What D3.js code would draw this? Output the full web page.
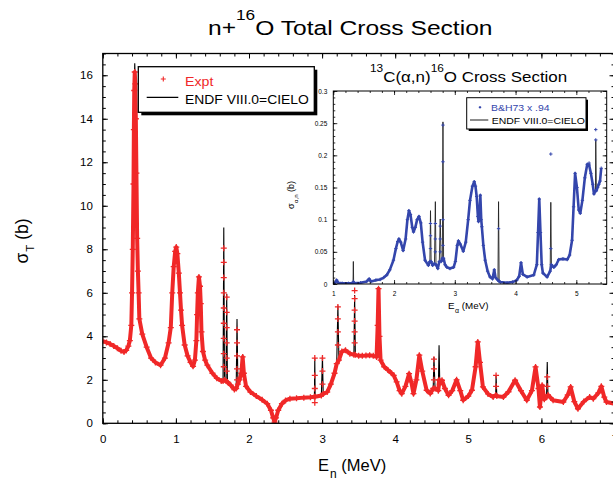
<!DOCTYPE html>
<html>
<head>
<meta charset="utf-8">
<script src="https://cdn.jsdelivr.net/npm/d3@7"></script>
<style>
  body { margin: 0; background: #fff; }
  svg { display: block; font-family: "Liberation Sans", Arial, Helvetica, sans-serif; }
</style>
</head>
<body>
<svg id="chart" width="613" height="479"></svg>
<script>
// ---------------- n + 16O total cross section (E in MeV, sigma in barns) ----------------
const endfPoints = [
  [0.00,3.77],[0.05,3.72],[0.10,3.65],[0.15,3.55],[0.20,3.45],[0.25,3.33],[0.29,3.28],[0.32,3.35],
  [0.35,3.55],[0.37,3.8],[0.39,4.5],[0.40,6.0],[0.41,8.0],[0.42,11.0],[0.425,13.5],[0.43,15.3],
  [0.437,16.55],[0.445,15.6],[0.452,14.0],[0.46,11.5],[0.47,8.5],[0.48,7.0],[0.49,6.0],[0.50,4.8],
  [0.54,4.1],[0.60,3.5],[0.66,3.0],[0.72,2.8],[0.79,2.67],[0.85,3.0],[0.90,3.7],[0.93,4.4],
  [0.95,6.0],[0.97,7.2],[0.99,7.9],[1.005,8.15],[1.02,7.8],[1.04,6.9],[1.056,6.0],[1.07,5.2],
  [1.085,4.5],[1.12,3.6],[1.16,3.1],[1.20,2.8],[1.235,2.62],[1.26,2.9],[1.28,3.8],[1.29,5.0],
  [1.30,6.0],[1.315,6.75],[1.33,6.3],[1.34,5.5],[1.35,4.2],[1.37,3.3],[1.40,2.9],[1.43,2.67],
  [1.50,2.3],[1.56,2.07],[1.62,1.95],[1.645,1.95],[1.655,9.0],[1.665,2.0],[1.685,1.95],[1.695,5.96],
  [1.705,1.9],[1.75,1.75],[1.80,1.55],[1.825,1.6],[1.836,4.8],[1.848,1.8],[1.87,2.0],[1.895,2.3],
  [1.913,3.17],[1.93,2.3],[1.96,1.7],[2.02,1.44],[2.10,1.25],[2.18,1.08],[2.25,0.9],[2.30,0.6],
  [2.33,0.25],[2.35,0.05],[2.37,0.25],[2.40,0.6],[2.45,0.9],[2.50,1.05],[2.56,1.13],[2.65,1.15],
  [2.75,1.18],[2.84,1.2],[2.895,1.22],[2.90,3.0],[2.905,1.22],[2.99,1.28],[3.005,3.08],[3.015,1.35],
  [3.07,1.44],[3.12,1.8],[3.17,2.3],[3.20,2.74],[3.216,5.42],[3.23,2.9],[3.27,3.3],[3.32,3.36],
  [3.38,3.2],[3.435,3.15],[3.445,5.9],[3.455,3.15],[3.50,3.1],[3.55,3.1],[3.60,3.12],[3.65,3.13],
  [3.70,3.1],[3.745,3.05],[3.76,4.5],[3.772,6.2],[3.785,4.0],[3.80,2.9],[3.85,2.6],[3.90,2.45],
  [3.95,2.3],[3.98,2.2],[4.02,1.9],[4.06,1.5],[4.09,1.36],[4.14,1.7],[4.19,2.28],[4.22,1.9],
  [4.25,1.36],[4.29,2.0],[4.33,3.13],[4.37,2.4],[4.43,1.52],[4.48,1.37],[4.52,1.6],[4.53,3.05],
  [4.545,1.6],[4.59,1.5],[4.60,3.59],[4.61,1.8],[4.64,1.98],[4.68,1.6],[4.73,1.29],[4.78,1.5],
  [4.84,2.0],[4.89,1.5],[4.93,1.06],[5.00,1.25],[5.05,1.52],[5.10,2.6],[5.13,3.74],[5.16,2.8],
  [5.20,1.67],[5.27,1.35],[5.34,1.21],[5.375,1.3],[5.38,2.2],[5.39,1.25],[5.48,1.21],[5.55,1.45],
  [5.64,1.98],[5.72,1.5],[5.80,1.06],[5.87,1.5],[5.92,2.59],[5.96,1.6],[5.98,0.75],[6.01,1.75],
  [6.04,1.1],[6.07,1.2],[6.08,2.82],[6.09,1.3],[6.16,1.06],[6.30,0.98],[6.36,1.3],[6.40,1.67],
  [6.45,1.0],[6.50,0.67],[6.58,1.0],[6.66,1.21],[6.71,1.13],[6.78,1.4],[6.82,1.7],[6.86,1.2],
  [6.89,0.98],[7.00,0.9]
];

// measured points along the smooth part of the cross section
const exptPoints = [
  [0.00,3.77],[0.05,3.72],[0.10,3.65],[0.15,3.55],[0.20,3.45],[0.25,3.33],[0.29,3.28],[0.32,3.35],
  [0.35,3.55],[0.37,3.8],[0.39,4.5],[0.40,6.0],[0.41,8.0],[0.42,11.0],[0.425,13.5],[0.43,15.3],
  [0.437,16.15],[0.445,15.6],[0.452,14.0],[0.46,11.5],[0.47,8.5],[0.48,7.0],[0.49,6.0],[0.50,4.8],
  [0.54,4.1],[0.60,3.5],[0.66,3.0],[0.72,2.8],[0.79,2.67],[0.85,3.0],[0.90,3.7],[0.93,4.4],
  [0.95,6.0],[0.97,7.2],[0.99,7.9],[1.005,8.1],[1.02,7.8],[1.04,6.9],[1.056,6.0],[1.07,5.2],
  [1.085,4.5],[1.12,3.6],[1.16,3.1],[1.20,2.8],[1.235,2.62],[1.26,2.9],[1.28,3.8],[1.29,5.0],
  [1.30,6.0],[1.315,6.73],[1.33,6.3],[1.34,5.5],[1.35,4.2],[1.37,3.3],[1.40,2.9],[1.43,2.67],
  [1.50,2.3],[1.56,2.07],[1.62,1.95],[1.645,1.95],[1.665,2.0],[1.685,1.95],
  [1.705,1.9],[1.75,1.75],[1.80,1.55],[1.825,1.6],[1.848,1.8],[1.87,2.0],[1.895,2.3],
  [1.913,3.05],[1.93,2.3],[1.96,1.7],[2.02,1.44],[2.10,1.25],[2.18,1.08],[2.25,0.9],[2.30,0.6],
  [2.33,0.25],[2.35,0.05],[2.37,0.25],[2.40,0.6],[2.45,0.9],[2.50,1.05],[2.56,1.13],[2.65,1.15],
  [2.75,1.18],[2.84,1.2],[2.895,1.22],[2.905,1.22],[2.99,1.28],[3.015,1.35],
  [3.07,1.44],[3.12,1.8],[3.17,2.3],[3.20,2.74],[3.23,2.9],[3.27,3.3],[3.32,3.36],
  [3.38,3.2],[3.435,3.15],[3.455,3.15],[3.50,3.1],[3.55,3.1],[3.60,3.12],[3.65,3.13],
  [3.70,3.1],[3.745,3.05],[3.76,4.5],[3.772,6.19],[3.785,4.0],[3.80,2.9],[3.85,2.6],[3.90,2.45],
  [3.95,2.3],[3.98,2.2],[4.02,1.9],[4.06,1.5],[4.09,1.36],[4.14,1.7],[4.19,2.28],[4.22,1.9],
  [4.25,1.36],[4.29,2.0],[4.33,3.13],[4.37,2.4],[4.43,1.52],[4.48,1.37],[4.52,1.6],
  [4.545,1.6],[4.59,1.5],[4.60,2.0],[4.61,1.8],[4.64,1.98],[4.68,1.6],[4.73,1.29],[4.78,1.5],
  [4.84,2.0],[4.89,1.5],[4.93,1.06],[5.00,1.25],[5.05,1.52],[5.10,2.6],[5.13,3.74],[5.16,2.8],
  [5.20,1.67],[5.27,1.35],[5.34,1.21],[5.375,1.3],[5.39,1.25],[5.48,1.21],[5.55,1.45],
  [5.64,1.98],[5.72,1.5],[5.80,1.06],[5.87,1.5],[5.92,2.59],[5.96,1.6],[5.98,0.75],[6.01,1.75],
  [6.04,1.1],[6.07,1.2],[6.09,1.3],[6.16,1.06],[6.30,0.98],[6.36,1.3],[6.40,1.67],
  [6.45,1.0],[6.50,0.67],[6.58,1.0],[6.66,1.21],[6.71,1.13],[6.78,1.4],[6.82,1.7],[6.86,1.2],
  [6.89,0.98],[7.00,0.9]
];
// measured points stacked along the narrow resonances
const exptSpikePoints = [
  [1.655,8.05],[1.655,7.4],[1.655,6.7],[1.655,6.0],[1.655,5.3],[1.655,4.6],[1.655,3.9],[1.655,3.2],[1.655,2.6],
  [1.695,5.8],[1.695,5.1],[1.695,4.4],[1.695,3.7],[1.695,3.0],[1.695,2.4],
  [1.836,4.3],[1.836,3.7],[1.836,3.1],[1.836,2.5],[1.836,2.0],
  [2.90,3.0],[2.90,2.2],[2.90,1.6],[2.90,0.95],
  [3.005,3.0],[3.005,2.4],[3.005,1.8],
  [3.216,5.35],[3.216,4.8],[3.216,4.2],[3.216,3.6],
  [3.445,6.1],[3.445,5.73],[3.445,5.2],[3.445,4.7],[3.445,4.2],[3.445,3.7],
  [4.53,2.95],[4.53,2.5],[4.53,2.0],
  [5.38,2.2],[5.38,1.7],
  [6.08,2.13],[6.08,1.7]
];

const mainXTicks = [0,1,2,3,4,5,6,7];
const mainYTicks = [0,2,4,6,8,10,12,14,16];

// ---------------- 13C(alpha,n)16O cross section (E_alpha in MeV, sigma in barns) ----------------
const alphaEndfPoints = [
  [1.00,0.000],[1.03,0.002],[1.055,0.006],[1.08,0.002],[1.15,0.001],[1.25,0.001],[1.325,0.001],[1.33,0.035],
  [1.335,0.001],[1.45,0.002],[1.55,0.004],[1.59,0.008],[1.62,0.004],[1.70,0.006],[1.77,0.007],[1.83,0.010],
  [1.88,0.014],[1.93,0.022],[1.99,0.037],[2.03,0.055],[2.06,0.066],[2.08,0.070],[2.11,0.065],[2.15,0.052],
  [2.19,0.070],[2.22,0.100],[2.245,0.114],[2.27,0.108],[2.30,0.088],[2.32,0.081],[2.35,0.088],[2.38,0.100],
  [2.41,0.105],[2.44,0.095],[2.47,0.065],[2.51,0.037],[2.565,0.029],[2.59,0.035],[2.60,0.114],[2.61,0.035],
  [2.635,0.029],[2.665,0.032],[2.68,0.128],[2.69,0.030],[2.72,0.024],[2.745,0.035],[2.76,0.101],[2.775,0.035],
  [2.795,0.040],[2.805,0.252],[2.815,0.040],[2.84,0.030],[2.87,0.026],[2.92,0.024],[2.98,0.026],[3.01,0.035],
  [3.04,0.060],[3.06,0.067],[3.09,0.062],[3.14,0.051],[3.18,0.065],[3.22,0.100],[3.25,0.130],[3.29,0.152],
  [3.32,0.159],[3.34,0.152],[3.36,0.136],[3.38,0.105],[3.39,0.097],[3.405,0.110],[3.42,0.138],[3.435,0.100],
  [3.445,0.089],[3.47,0.060],[3.50,0.037],[3.54,0.020],[3.58,0.011],[3.62,0.008],[3.65,0.022],[3.67,0.010],
  [3.71,0.006],[3.72,0.128],[3.73,0.004],[3.75,0.003],[3.86,0.002],[3.95,0.003],[4.02,0.006],[4.06,0.012],
  [4.09,0.033],[4.12,0.015],[4.19,0.011],[4.30,0.014],[4.35,0.030],[4.37,0.080],[4.39,0.132],[4.41,0.080],
  [4.43,0.030],[4.45,0.017],[4.52,0.011],[4.57,0.020],[4.58,0.127],[4.59,0.030],[4.63,0.026],[4.67,0.030],
  [4.71,0.038],[4.78,0.039],[4.85,0.038],[4.89,0.045],[4.93,0.068],[4.955,0.120],[4.98,0.172],[5.01,0.150],
  [5.04,0.115],[5.065,0.110],[5.10,0.130],[5.14,0.165],[5.18,0.186],[5.21,0.185],[5.24,0.172],[5.27,0.155],
  [5.29,0.140],[5.315,0.145],[5.32,0.224],[5.33,0.145],[5.35,0.150],[5.37,0.155],[5.39,0.160],[5.41,0.180]
];

// Bair & Haas 1973, scaled by 0.94
const bhPoints = [
  [1.00,0.000],[1.03,0.002],[1.055,0.006],[1.08,0.002],[1.15,0.001],[1.25,0.001],[1.325,0.001],
  [1.335,0.001],[1.45,0.002],[1.55,0.004],[1.59,0.008],[1.62,0.004],[1.70,0.006],[1.77,0.007],[1.83,0.010],
  [1.88,0.014],[1.93,0.022],[1.99,0.037],[2.03,0.055],[2.06,0.066],[2.08,0.070],[2.11,0.065],[2.15,0.052],
  [2.19,0.070],[2.22,0.100],[2.245,0.114],[2.27,0.108],[2.30,0.088],[2.32,0.081],[2.35,0.088],[2.38,0.100],
  [2.41,0.105],[2.44,0.095],[2.47,0.065],[2.51,0.037],[2.565,0.029],[2.59,0.035],[2.61,0.035],
  [2.635,0.029],[2.665,0.032],[2.69,0.030],[2.72,0.024],[2.745,0.035],[2.775,0.035],
  [2.795,0.040],[2.815,0.040],[2.84,0.030],[2.87,0.026],[2.92,0.024],[2.98,0.026],[3.01,0.035],
  [3.04,0.060],[3.06,0.067],[3.09,0.062],[3.14,0.051],[3.18,0.065],[3.22,0.100],[3.25,0.130],[3.29,0.152],
  [3.32,0.159],[3.34,0.152],[3.36,0.136],[3.38,0.105],[3.39,0.097],[3.405,0.110],[3.42,0.138],[3.435,0.100],
  [3.445,0.089],[3.47,0.060],[3.50,0.037],[3.54,0.020],[3.58,0.011],[3.62,0.008],[3.65,0.022],[3.67,0.010],
  [3.71,0.006],[3.73,0.004],[3.75,0.003],[3.86,0.002],[3.95,0.003],[4.02,0.006],[4.06,0.012],
  [4.09,0.033],[4.12,0.015],[4.19,0.011],[4.30,0.014],[4.35,0.030],[4.37,0.080],[4.39,0.132],[4.41,0.080],
  [4.43,0.030],[4.45,0.017],[4.52,0.011],[4.57,0.020],[4.59,0.030],[4.63,0.026],[4.67,0.030],
  [4.71,0.038],[4.78,0.039],[4.85,0.038],[4.89,0.045],[4.93,0.068],[4.955,0.120],[4.98,0.172],[5.01,0.150],
  [5.04,0.115],[5.065,0.110],[5.10,0.130],[5.14,0.165],[5.18,0.186],[5.21,0.185],[5.24,0.172],[5.27,0.155],
  [5.29,0.140],[5.315,0.145],[5.33,0.145],[5.35,0.150],[5.37,0.155],[5.39,0.160],[5.41,0.180]
];
const bhSpikePoints = [
  [1.33,0.004],
  [2.60,0.094],[2.60,0.075],[2.60,0.055],
  [2.68,0.094],[2.68,0.070],[2.68,0.050],
  [2.76,0.090],[2.76,0.070],[2.76,0.050],
  [2.805,0.247],[2.805,0.190],[2.805,0.100],[2.805,0.060],
  [3.72,0.086],
  [4.58,0.202],[4.58,0.055],
  [5.21,0.188],
  [5.32,0.240],[5.32,0.224]
];

const insetXTicks = [1,2,3,4,5];
const insetYTicks = [0,0.05,0.1,0.15,0.2,0.25,0.3];

// ---------------- drawing ----------------
const RED = "#f02828", BLUE = "#3446ac";
const svg = d3.select("#chart");
const defs = svg.append("defs");

const x = d3.scaleLinear().domain([0, 7]).range([102.8, 614.5]);
const y = d3.scaleLinear().domain([0, 17]).range([423.3, 53.5]);

const xi = d3.scaleLinear().domain([1, 5.5]).range([333.3, 606.7]);
const yi = d3.scaleLinear().domain([0, 0.3]).range([284, 91]);

// text helper: supports super/subscript runs and a horizontal stretch
function richText(parent, px, py, runs, opt) {
  const o = Object.assign({ size: 12, sx: 1, fill: "#000", anchor: "start", rotate: 0 }, opt);
  let tf = `translate(${px},${py}) scale(${o.sx},1)`;
  if (o.rotate) tf += ` rotate(${o.rotate})`;
  const t = parent.append("text")
    .attr("transform", tf)
    .attr("font-size", o.size)
    .attr("fill", o.fill)
    .attr("text-anchor", o.anchor);
  runs.forEach(r => {
    const s = t.append("tspan").text(typeof r === "string" ? r : r.t);
    if (r.size) s.attr("font-size", r.size);
    if (r.dy) s.attr("dy", r.dy);
    if (r.dx) s.attr("dx", r.dx);
  });
  return t;
}

// inward ticks on all four sides, labels on bottom/left only
function frameAxes(g, xs, ys, cfg) {
  const [X0, X1] = xs.range(), [Y0, Y1] = ys.range();
  const xMinor = d3.range(xs.domain()[0], xs.domain()[1] + 1e-9, cfg.xMinorStep);
  const yMinor = d3.range(ys.domain()[0], ys.domain()[1] + 1e-9, cfg.yMinorStep);
  const strip = sel => sel.select(".domain").remove();
  const styleTicks = sel => sel.selectAll(".tick line").attr("stroke", "#000").attr("stroke-width", cfg.tickWidth);
  const styleText = sel => sel.selectAll("text")
    .attr("font-family", null).attr("font-size", cfg.fontSize).attr("fill", "#000");

  const sides = [
    [d3.axisBottom, xs, xMinor, `translate(0,${Y0})`],
    [d3.axisTop, xs, xMinor, `translate(0,${Y1})`],
    [d3.axisLeft, ys, yMinor, `translate(${X0},0)`],
    [d3.axisRight, ys, yMinor, `translate(${X1},0)`]
  ];
  sides.forEach(([fn, sc, vals, tf]) => {
    g.append("g").attr("transform", tf)
      .call(fn(sc).tickValues(vals).tickSize(-cfg.minor).tickFormat(""))
      .call(strip).call(styleTicks);
  });

  g.append("g").attr("transform", `translate(0,${Y0})`)
    .call(d3.axisBottom(xs).tickValues(cfg.xTicks).tickSize(-cfg.major).tickPadding(cfg.xPad).tickFormat(cfg.xFmt))
    .call(strip).call(styleTicks).call(styleText);
  g.append("g").attr("transform", `translate(0,${Y1})`)
    .call(d3.axisTop(xs).tickValues(cfg.xTicks).tickSize(-cfg.major).tickFormat(""))
    .call(strip).call(styleTicks);
  g.append("g").attr("transform", `translate(${X0},0)`)
    .call(d3.axisLeft(ys).tickValues(cfg.yTicks).tickSize(-cfg.major).tickPadding(cfg.yPad).tickFormat(cfg.yFmt))
    .call(strip).call(styleTicks).call(styleText);
  g.append("g").attr("transform", `translate(${X1},0)`)
    .call(d3.axisRight(ys).tickValues(cfg.yTicks).tickSize(-cfg.major).tickFormat(""))
    .call(strip).call(styleTicks);

  g.append("rect")
    .attr("x", X0).attr("y", Y1).attr("width", X1 - X0).attr("height", Y0 - Y1)
    .attr("fill", "none").attr("stroke", "#000").attr("stroke-width", cfg.frameWidth);
}

function plusPath(size) {
  const h = size / 2;
  return `M${-h},0H${h}M0,${-h}V${h}`;
}

function clipRect(id, xs, ys) {
  defs.append("clipPath").attr("id", id).append("rect")
    .attr("x", xs.range()[0]).attr("y", ys.range()[1])
    .attr("width", xs.range()[1] - xs.range()[0]).attr("height", ys.range()[0] - ys.range()[1]);
}

// ===== main plot =====
clipRect("mainClip", x, y);
const main = svg.append("g");
const lineMain = d3.line().x(d => x(d[0])).y(d => y(d[1]));

const dataMain = main.append("g").attr("clip-path", "url(#mainClip)");
dataMain.append("path").datum(endfPoints)
  .attr("d", lineMain).attr("fill", "none").attr("stroke", "#000").attr("stroke-width", 1.1);
dataMain.append("path").datum(exptPoints)
  .attr("d", lineMain).attr("fill", "none").attr("stroke", RED).attr("stroke-width", 4)
  .attr("stroke-linejoin", "round");
dataMain.append("g").selectAll("path")
  .data(exptPoints.concat(exptSpikePoints)).join("path")
  .attr("transform", d => `translate(${x(d[0])},${y(d[1])})`)
  .attr("d", plusPath(6)).attr("stroke", RED).attr("stroke-width", 1.3).attr("fill", "none");

frameAxes(main, x, y, {
  xTicks: mainXTicks, yTicks: mainYTicks, xMinorStep: 0.2, yMinorStep: 0.5,
  major: 5, minor: 3, tickWidth: 1, frameWidth: 1.3, fontSize: 11.5,
  xPad: 12, yPad: 10, xFmt: d3.format("d"), yFmt: d3.format("d")
});

// title and axis titles
richText(svg, 208, 35.3, [
  "n+", { t: "16", size: 14, dy: -15 }, { t: "O Total Cross Section", size: 20, dy: 15 }
], { size: 20, sx: 1.23 });

richText(svg, 318, 470.7, [
  "E", { t: "n", size: 12, dy: 7, dx: 1 }, { t: " (MeV)", dy: -7 }
], { size: 16.5 });

richText(svg, 28, 241, [
  "σ", { t: "T", size: 11.5, dy: 6, dx: 1 }, { t: " (b)", dy: -6 }
], { size: 17.5, anchor: "middle", rotate: -90 });

// main legend
const leg = svg.append("g");
leg.append("rect").attr("x", 141.3).attr("y", 69.7).attr("width", 176).attr("height", 45.6).attr("fill", "#000");
leg.append("rect").attr("x", 138.3).attr("y", 66.7).attr("width", 176).attr("height", 45.6)
  .attr("fill", "#fff").attr("stroke", "#000").attr("stroke-width", 1.3);
leg.append("path").attr("transform", "translate(163.3,79)").attr("d", plusPath(5))
  .attr("stroke", RED).attr("stroke-width", 1.1);
richText(leg, 185, 85.7, ["Expt"], { size: 13.5, sx: 1.05, fill: RED });
leg.append("line").attr("x1", 146.7).attr("x2", 178.3).attr("y1", 97.3).attr("y2", 97.3)
  .attr("stroke", "#000").attr("stroke-width", 1.2);
richText(leg, 185, 103.8, ["ENDF VIII.0=CIELO"], { size: 13.5, sx: 1.03 });

// ===== inset: 13C(a,n)16O =====
const inset = svg.append("g");
inset.append("rect").attr("x", xi.range()[0]).attr("y", yi.range()[1])
  .attr("width", xi.range()[1] - xi.range()[0]).attr("height", yi.range()[0] - yi.range()[1])
  .attr("fill", "#fff");

clipRect("insetClip", xi, yi);
const lineInset = d3.line().x(d => xi(d[0])).y(d => yi(d[1]));
const dataInset = inset.append("g").attr("clip-path", "url(#insetClip)");
dataInset.append("path").datum(alphaEndfPoints)
  .attr("d", lineInset).attr("fill", "none").attr("stroke", "#222").attr("stroke-width", 0.9);
dataInset.append("path").datum(bhPoints)
  .attr("d", lineInset).attr("fill", "none").attr("stroke", BLUE).attr("stroke-width", 2.6)
  .attr("stroke-linejoin", "round");
dataInset.append("g").selectAll("path")
  .data(bhPoints.concat(bhSpikePoints)).join("path")
  .attr("transform", d => `translate(${xi(d[0])},${yi(d[1])})`)
  .attr("d", plusPath(3.4)).attr("stroke", BLUE).attr("stroke-width", 1).attr("fill", "none");

frameAxes(inset, xi, yi, {
  xTicks: insetXTicks, yTicks: insetYTicks, xMinorStep: 0.2, yMinorStep: 0.01,
  major: 4, minor: 2, tickWidth: 0.8, frameWidth: 1, fontSize: 6.5,
  xPad: 7, yPad: 6, xFmt: d3.format("d"), yFmt: d => (d === 0 ? "0" : String(+d.toFixed(2)))
});

richText(svg, 370, 81.7, [
  { t: "13", size: 10.5, dy: -10 }, { t: "C(α,n)", size: 15, dy: 10 },
  { t: "16", size: 10.5, dy: -10 }, { t: "O Cross Section", size: 15, dy: 10 }
], { size: 15, sx: 1.13 });

richText(svg, 448, 309.3, [
  "E", { t: "α", size: 7, dy: 4, dx: 0.5 }, { t: " (MeV)", dy: -4 }
], { size: 9.8 });

richText(svg, 294, 195, [
  "σ", { t: "α,n", size: 6, dy: 3.5, dx: 0.5 }, { t: " (b)", dy: -3.5 }
], { size: 9, anchor: "middle", rotate: -90 });

// inset legend
const leg2 = svg.append("g");
leg2.append("rect").attr("x", 468.7).attr("y", 99.7).attr("width", 119.3).attr("height", 31.3).attr("fill", "#000");
leg2.append("rect").attr("x", 466.7).attr("y", 97.7).attr("width", 119.3).attr("height", 31.3)
  .attr("fill", "#fff").attr("stroke", "#000").attr("stroke-width", 1);
leg2.append("path").attr("transform", "translate(480,107.3)").attr("d", plusPath(2.4))
  .attr("stroke", BLUE).attr("stroke-width", 1.2);
richText(leg2, 491, 111, ["B&H73 x .94"], { size: 9.5, sx: 1.1, fill: BLUE });
leg2.append("line").attr("x1", 470).attr("x2", 488.3).attr("y1", 120).attr("y2", 120)
  .attr("stroke", "#000").attr("stroke-width", 0.9);
richText(leg2, 491.7, 124.3, ["ENDF VIII.0=CIELO"], { size: 9.5, sx: 1.1 });
</script>
</body>
</html>
